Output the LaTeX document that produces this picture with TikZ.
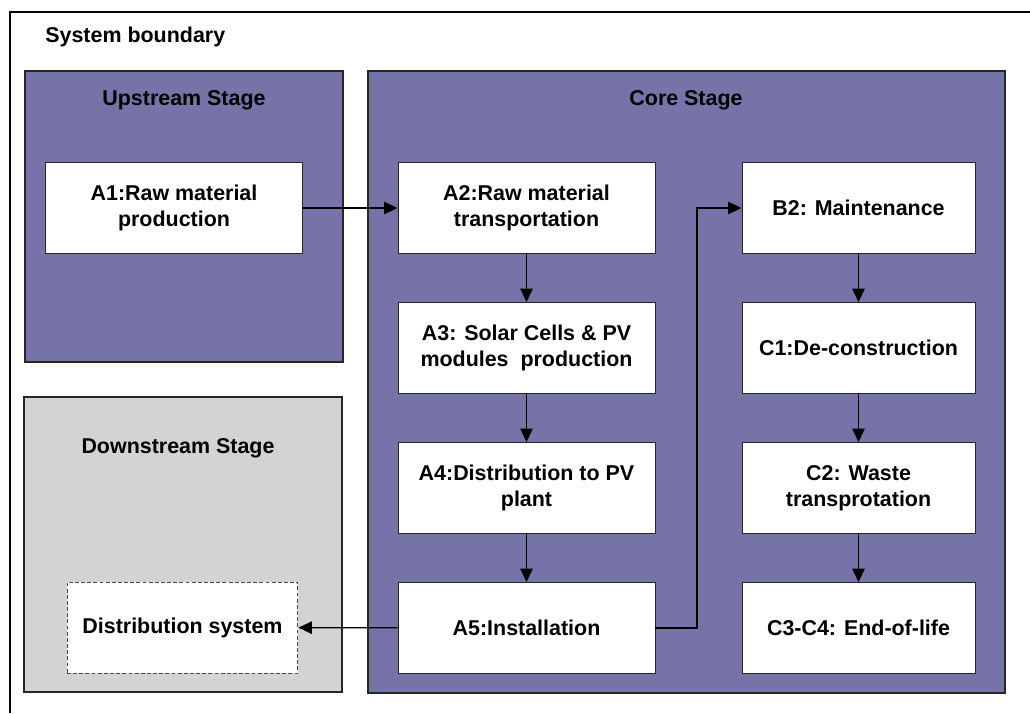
\documentclass[tikz,border=0pt]{standalone}
\usepackage{fontspec}
\setmainfont{Liberation Sans}
\usetikzlibrary{arrows.meta}

\definecolor{viola}{RGB}{118,115,168}
\definecolor{grigio}{RGB}{211,211,211}

\tikzset{
    fase/.style={draw=black!85, line width=0.7pt, fill=viola},
    blocco/.style={draw=black!85, fill=white, line width=0.55pt, align=center,
        minimum width=5.14cm, minimum height=1.82cm, inner sep=2pt},
    bloccodx/.style={blocco, minimum width=4.66cm},
    titolo/.style={inner sep=0pt},
    freccia/.style={-{Triangle[length=0.27cm,width=0.25cm]}, line width=0.75pt}
}

\begin{document}
\begin{tikzpicture}[x=0.02cm, y=-0.02cm, font=\fontsize{12.2}{14.8}\selectfont\bfseries]

    \useasboundingbox (0,0) rectangle (1030,713);

    % Confine del sistema
    \draw[line width=1.5pt] (1030,12) -- (10,12) -- (10,713);
    \node[titolo, anchor=west] (confine) at (45,37) {System boundary};

    % Fasi
    \draw[fase] (25,71) rectangle (343,362);
    \draw[fase] (368,71) rectangle (1005,693);
    \draw[fase, fill=grigio] (24,397) rectangle (342,692);
    \node[titolo] (monte) at (184,100) {Upstream Stage};
    \node[titolo] (nucleo) at (686,100) {Core Stage};
    \node[titolo] (valle) at (178,448) {Downstream Stage};

    % Blocchi
    \node[blocco] (a1) at (174,208) {A1:Raw material\\production};
    \node[blocco] (a2) at (526.5,208) {A2:Raw material\\transportation};
    \node[blocco] (a3) at (526.5,348) {A3: Solar Cells \& PV\\modules\ \ production};
    \node[blocco] (a4) at (526.5,488) {A4:Distribution to PV\\plant};
    \node[blocco] (a5) at (526.5,628) {A5:Installation};
    \node[bloccodx] (b2) at (858.5,208) {B2: Maintenance};
    \node[bloccodx] (c1) at (858.5,348) {C1:De-construction};
    \node[bloccodx] (c2) at (858.5,488) {C2: Waste\\transprotation};
    \node[bloccodx] (c34) at (858.5,628) {C3-C4: End-of-life};
    \node[blocco, minimum width=4.62cm, draw=black!70, dash pattern=on 2.2pt off 1.3pt] (dist) at (182.5,627.5) {Distribution system};

    % Frecce
    \coordinate (gomito) at (697,628);
    \draw[freccia] (a1) -- (a2);
    \draw[freccia] (a2) -- (a3);
    \draw[freccia] (a3) -- (a4);
    \draw[freccia] (a4) -- (a5);
    \draw[freccia] (a5) -- (dist);
    \draw[freccia] (a5.east) -- (gomito) |- (b2.west);
    \draw[freccia] (b2) -- (c1);
    \draw[freccia] (c1) -- (c2);
    \draw[freccia] (c2) -- (c34);

\end{tikzpicture}
\end{document}
